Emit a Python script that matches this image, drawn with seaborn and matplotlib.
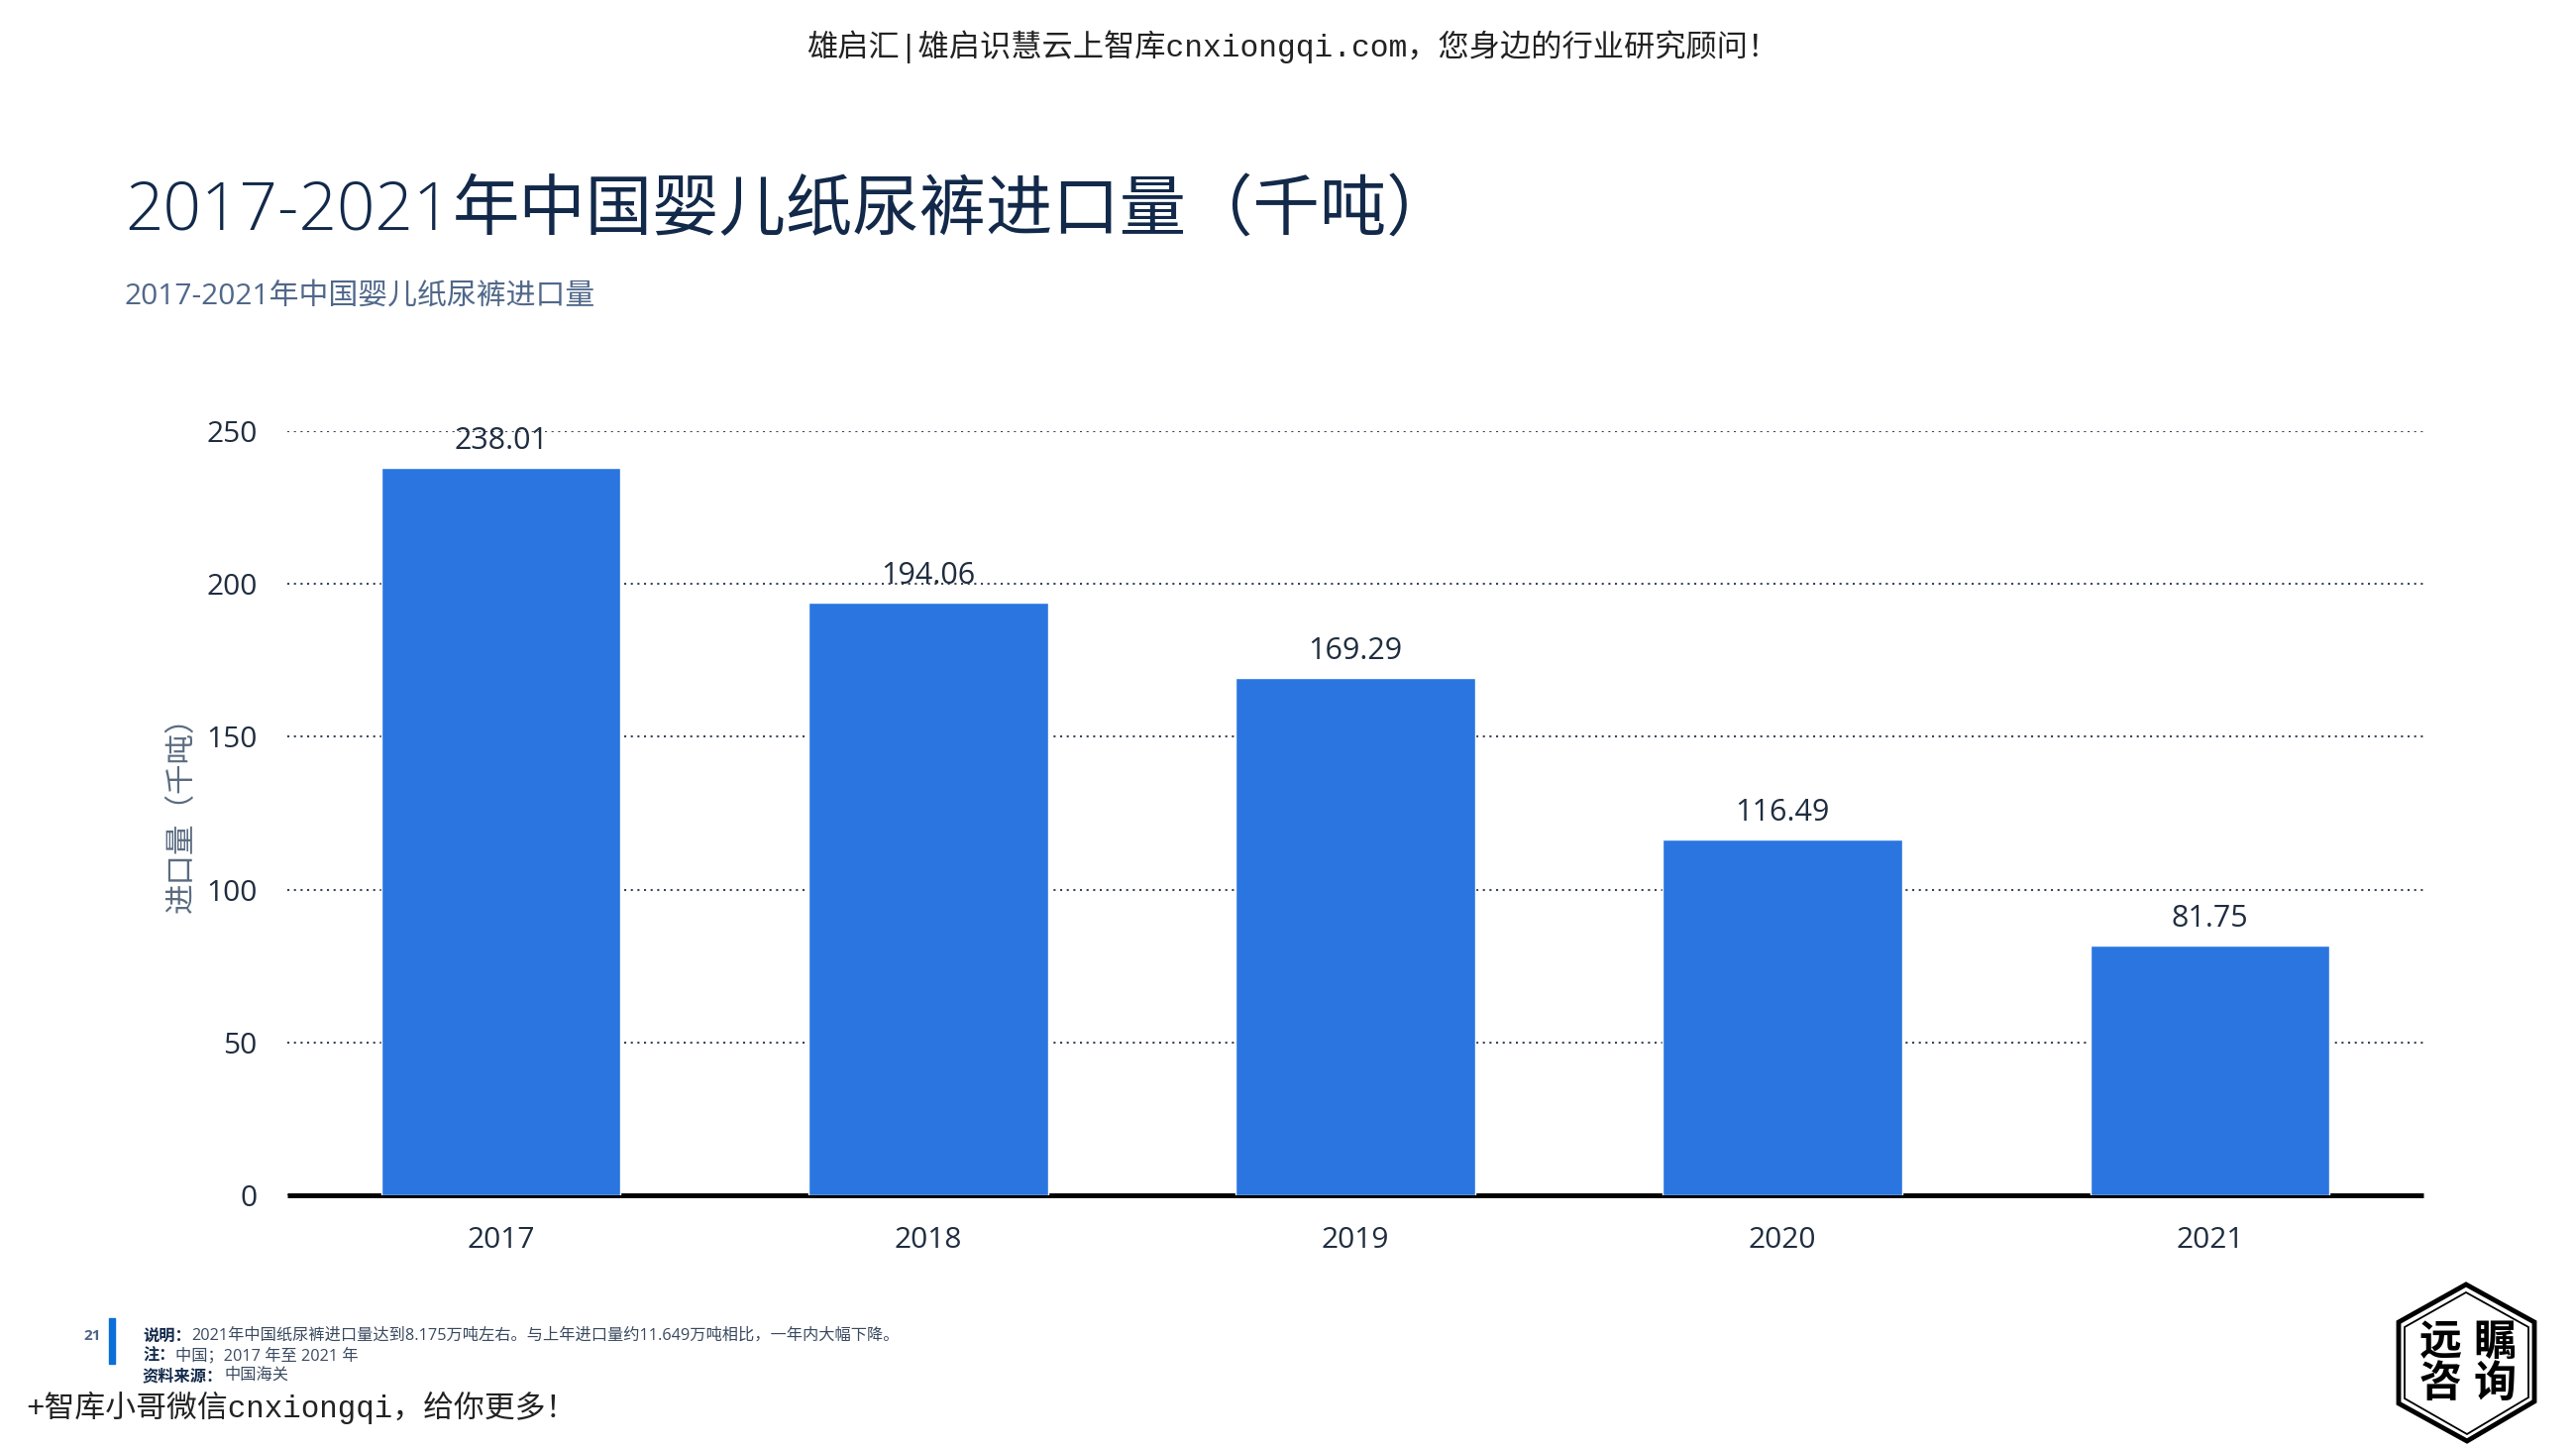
import numpy as np
import pandas as pd
import matplotlib
matplotlib.use('Agg')
import matplotlib.pyplot as plt
from matplotlib.patches import Polygon, Rectangle
import seaborn as sns

years = ['2017', '2018', '2019', '2020', '2021']
imports = [238.01, 194.06, 169.29, 116.49, 81.75]
yticks = [0, 50, 100, 150, 200, 250]

title_num = '2017-2021'
title_cn = '年中国婴儿纸尿裤进口量（千吨）'
subtitle = '2017-2021年中国婴儿纸尿裤进口量'
ylabel = '进口量（千吨）'
header = '雄启汇|雄启识慧云上智库cnxiongqi.com，您身边的行业研究顾问！'
promo = '+智库小哥微信cnxiongqi，给你更多！'
notes = [('说明：', '2021年中国纸尿裤进口量达到8.175万吨左右。与上年进口量约11.649万吨相比，一年内大幅下降。'),
         ('注：', '中国；2017 年至 2021 年'),
         ('资料来源：', '中国海关')]

W, H = 2600, 1462

sns.set_theme(style='white')
plt.rcParams['font.family'] = ['Open Sans', 'Noto Sans CJK SC', 'DejaVu Sans']
mono = ['Liberation Mono', 'Noto Sans CJK SC']

df = pd.DataFrame({'year': years, 'imports': imports})

fig = plt.figure(figsize=(W / 100, H / 100), dpi=100, facecolor='white')
ax = fig.add_axes([290 / W, 1 - 1206 / H, (2446 - 290) / W, (1206 - 435) / H])

sns.barplot(data=df, x='year', y='imports', color='#2a75e0', width=0.56,
            saturation=1, ax=ax, zorder=3)
ax.bar_label(ax.containers[0], fmt='%.2f', padding=8.5, fontsize=22, color='#1f2d3f', zorder=4)

ax.set_xlim(-0.5, 4.5)
ax.set_ylim(0, 250)
ax.set_yticks(yticks)
ax.set_xlabel('')
ax.set_ylabel('')
ax.grid(axis='y', color='#3a4656', linestyle=(0, (1, 2.2)), linewidth=1.5, zorder=0)
ax.tick_params(axis='both', length=0, labelsize=21.5, labelcolor='#1f2d3f')
ax.tick_params(axis='x', pad=22)
ax.tick_params(axis='y', pad=22)
sns.despine(ax=ax, left=True)
ax.spines['bottom'].set_color('black')
ax.spines['bottom'].set_linewidth(3.5)
ax.spines['bottom'].set_capstyle('butt')


def px(x, y, s, **kw):
    return fig.text(x / W, 1 - y / H, s, va='center', **kw)


renderer = fig.canvas.get_renderer()

px(814, 47, header, fontsize=22.5, color='#222222', family=mono)
t = px(126, 214, title_num, fontsize=48.5, color='#12294a', fontweight='light')
px(t.get_window_extent(renderer).x1 + 1, 214, title_cn, fontsize=48.5, color='#12294a',
   family=['Noto Sans CJK SC'], fontweight='medium')
px(126, 299, subtitle, fontsize=21.5, color='#50688a')
px(183, 814, ylabel, fontsize=22, color='#5a6b80', rotation=90, ha='center',
   family=['Noto Sans CJK SC'])

# 页脚
fig.add_artist(Rectangle((110 / W, 1 - 1376 / H), 6 / W, 46 / H, transform=fig.transFigure,
                         color='#0a6fd8'))
px(84, 1348, '21', fontsize=11, color='#4d6585', fontweight='bold')
for i, (head, body) in enumerate(notes):
    y = 1348 + i * 20
    t = px(144, y, head, fontsize=11.7, color='#12294a', fontweight='bold',
           family=['Noto Sans CJK SC'])
    x1 = t.get_window_extent(renderer).x1
    px(x1 + 1, y, body, fontsize=11.7, color='#3a4a60')
px(26, 1420, promo, fontsize=22.2, color='#222222', family=mono)

# 角标
outer = [(2489, 1296), (2558, 1334), (2558, 1414), (2490, 1454), (2421, 1416), (2421, 1334)]
inner = [(2489, 1304), (2552, 1339), (2552, 1410), (2490, 1447), (2427, 1411), (2427, 1339)]
to_fig = lambda pts: [(x / W, 1 - y / H) for x, y in pts]
fig.add_artist(Polygon(to_fig(outer), closed=True, fill=False, edgecolor='black', linewidth=3.5,
                       transform=fig.transFigure))
fig.add_artist(Polygon(to_fig(inner), closed=True, fill=False, edgecolor='black', linewidth=1.3,
                       transform=fig.transFigure))
for x, y, s in [(2463, 1354, '远'), (2518, 1354, '瞩'), (2463, 1396, '咨'), (2518, 1396, '询')]:
    px(x, y, s, fontsize=31, fontweight='bold', color='black', ha='center',
       family=['Noto Sans CJK SC'])

fig.savefig('out.png', dpi=100, facecolor='white')
